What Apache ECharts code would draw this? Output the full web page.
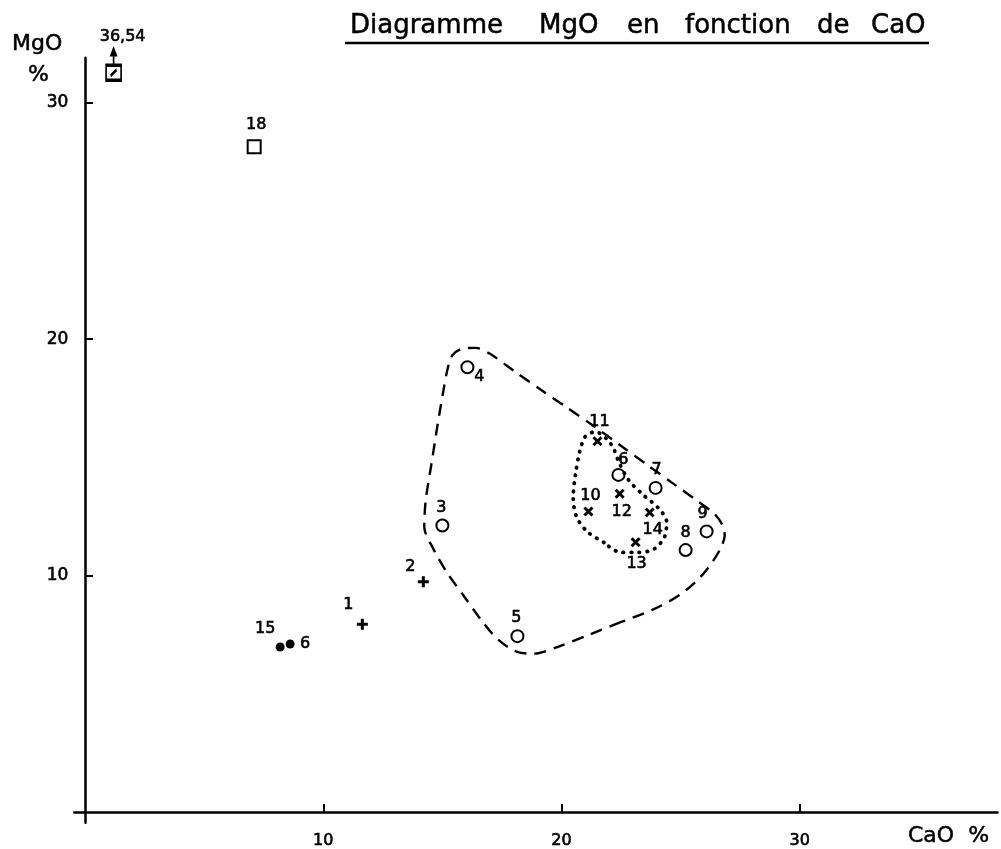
<!DOCTYPE html>
<html><head><meta charset="utf-8">
<script src="https://cdn.jsdelivr.net/npm/echarts@6/dist/echarts.min.js"></script>
<style>html,body{margin:0;padding:0;background:#fff}#c{width:1001px;height:849px}</style>
</head><body><div id="c"></div>
<script>
// ---- data ----
const caoTicks = [10, 20, 30];
const mgoTicks = [10, 20, 30];

const circleNames = ['3', '4', '5', '6', '7', '8', '9'];
const circleCaO   = [15.0, 16.05, 18.15, 22.39, 23.95, 25.21, 26.09];
const circleMgO   = [12.12, 18.81, 7.44, 14.26, 13.71, 11.08, 11.87];

const crossNames = ['10', '11', '12', '13', '14'];
const crossCaO   = [21.13, 21.51, 22.44, 23.11, 23.7];
const crossMgO   = [12.71, 15.68, 13.46, 11.41, 12.67];

const plusNames = ['1', '2'];
const plusCaO   = [11.64, 14.2];
const plusMgO   = [7.94, 9.74];

const dotNames = ['15', '6'];
const dotCaO   = [8.19, 8.61];
const dotMgO   = [6.98, 7.11];

const squareNames = ['18'];
const squareCaO   = [7.1];
const squareMgO   = [28.14];

const offNames = ['36,54'];
const offCaO   = [1.2];
const offMgO   = [31.27];

// dashed envelope (closed)
const dashedCaO = [22.48, 21.08, 19.82, 18.84, 18.14, 17.3, 16.6, 15.9, 15.2, 14.64, 14.24, 14.3, 14.54, 14.8, 15.06, 15.22, 15.42, 15.85, 16.4, 17.0, 18.0, 19.12, 20.24, 21.36, 22.48, 23.6, 24.72, 25.7, 26.4, 26.75, 26.85, 26.7, 26.35, 25.84, 25.0, 23.88, 22.48];
const dashedMgO = [8.03, 7.47, 6.98, 6.7, 6.77, 7.33, 8.16, 9.14, 10.12, 11.09, 12.07, 13.18, 14.72, 16.39, 17.92, 18.75, 19.32, 19.6, 19.63, 19.38, 18.66, 17.87, 17.1, 16.32, 15.5, 14.68, 13.87, 13.16, 12.63, 12.15, 11.7, 11.2, 10.6, 9.95, 9.21, 8.58, 8.03];

// dotted envelope (closed)
const dottedCaO = [21.78, 21.08, 20.63, 20.49, 20.59, 20.77, 21.01, 21.43, 21.92, 22.2, 22.41, 22.83, 23.46, 24.09, 24.41, 24.33, 23.88, 23.18, 22.48, 21.78];
const dottedMgO = [11.4, 11.86, 12.49, 13.32, 14.3, 15.27, 15.9, 16.08, 15.76, 15.34, 14.79, 14.02, 13.39, 12.83, 12.28, 11.65, 11.12, 10.98, 10.98, 11.4];

// ---- label placement (style, kept apart from data) ----
const FONT = 'DejaVu Sans';
const circleLabelOff = {'3':[-1,-18],'4':[12,10],'5':[-1,-18],'6':[5,-15],'7':[1,-18],'8':[0,-17],'9':[-4,-18]};
const crossLabelOff  = {'10':[2,-16],'11':[2,-19],'12':[2,18],'13':[1,22],'14':[3,17]};
const plusLabelOff   = {'1':[-14,-19],'2':[-13,-15]};
const dotLabelOff    = {'15':[-15,-18],'6':[15,0]};
const squareLabelOff = {'18':[2,-22]};

function pts(names, xs, ys, offs) {
  return names.map((n, i) => ({
    name: n, value: [xs[i], ys[i]],
    label: offs ? { offset: offs[n] || [0, -16] } : undefined
  }));
}
function pairs(xs, ys) { return xs.map((x, i) => [x, ys[i]]); }

const baseLabel = { show: true, position: 'inside', formatter: '{b}', color: '#000', fontSize: 16, fontFamily: FONT, textBorderColor: '#000', textBorderWidth: 0.6 };
const strokeStyle = { color: 'rgba(0,0,0,0)', borderColor: '#000', borderWidth: 3, opacity: 1 };
const tTxt = (text, x, y, size) => ({ type: 'text', x, y, silent: true, style: { text, fontSize: size, fontFamily: FONT, fill: '#000', stroke: '#000', lineWidth: 0.5 } });

const chart = echarts.init(document.getElementById('c'), null, { renderer: 'canvas' });
chart.setOption({
  animation: false,
  backgroundColor: '#fff',
  grid: { left: 74.3, right: 3.5, top: 57.8, bottom: 16.3, containLabel: false },
  xAxis: {
    type: 'value', min: -0.45, max: 38.3,
    axisLine: { onZero: true, lineStyle: { color: '#000', width: 2.5 } },
    axisTick: { show: true, inside: true, length: 8, customValues: caoTicks, lineStyle: { color: '#000', width: 2 } },
    axisLabel: { customValues: caoTicks, color: '#000', fontSize: 16, fontFamily: FONT, margin: 10, textBorderColor: '#000', textBorderWidth: 0.6 },
    splitLine: { show: false }
  },
  yAxis: {
    type: 'value', min: -0.45, max: 31.9,
    axisLine: { onZero: true, lineStyle: { color: '#000', width: 2.5 } },
    axisTick: { show: true, inside: true, length: 8, customValues: mgoTicks, lineStyle: { color: '#000', width: 2 } },
    axisLabel: { customValues: mgoTicks, color: '#000', fontSize: 17, fontFamily: FONT, margin: 6, textBorderColor: '#000', textBorderWidth: 0.6 },
    splitLine: { show: false }
  },
  graphic: [
    tTxt('Diagramme', 350, 13, 26),
    tTxt('MgO', 539, 13, 26),
    tTxt('en', 627, 13, 26),
    tTxt('fonction', 685, 13, 26),
    tTxt('de', 817, 13, 26),
    tTxt('CaO', 871, 13, 26),
    { type: 'line', silent: true, shape: { x1: 345, y1: 43, x2: 929, y2: 43 }, style: { stroke: '#000', lineWidth: 2.5 } },
    tTxt('MgO', 12, 33, 22),
    tTxt('%', 28, 64, 22),
    tTxt('CaO  %', 908, 825, 22)
  ],
  series: [
    {
      type: 'line', data: pairs(dashedCaO, dashedMgO), smooth: 0.3, symbol: 'none', silent: true,
      lineStyle: { color: '#000', width: 2.4, type: [12, 8] }
    },
    {
      type: 'line', data: pairs(dottedCaO, dottedMgO), smooth: 0.3, symbol: 'none', silent: true,
      lineStyle: { color: '#000', width: 3.8, type: [0.5, 7.5], cap: 'round' }
    },
    {
      type: 'scatter', symbol: 'emptyCircle', symbolSize: 12,
      itemStyle: { color: '#000', borderColor: '#000', borderWidth: 2.5, opacity: 1 },
      label: baseLabel, data: pts(circleNames, circleCaO, circleMgO, circleLabelOff)
    },
    {
      type: 'scatter', symbol: 'path://M0,0L10,10M10,0L0,10', symbolSize: 8,
      itemStyle: strokeStyle, label: baseLabel, data: pts(crossNames, crossCaO, crossMgO, crossLabelOff)
    },
    {
      type: 'scatter', symbol: 'path://M5,0L5,10M0,5L10,5', symbolSize: 11,
      itemStyle: strokeStyle, label: baseLabel, data: pts(plusNames, plusCaO, plusMgO, plusLabelOff)
    },
    {
      type: 'scatter', symbol: 'circle', symbolSize: 9,
      itemStyle: { color: '#000', opacity: 1 }, label: baseLabel, data: pts(dotNames, dotCaO, dotMgO, dotLabelOff)
    },
    {
      type: 'scatter', symbol: 'emptyRect', symbolSize: 13,
      itemStyle: { color: '#000', borderColor: '#000', borderWidth: 2.5, opacity: 1 },
      label: baseLabel, data: pts(squareNames, squareCaO, squareMgO, squareLabelOff)
    },
    {
      type: 'scatter', symbol: 'path://M0,11L10,11L10,21L0,21Z M3,18L7,14 M5,11L5,2 M3.5,4L5,0L6.5,4Z',
      symbolSize: [15, 31.5], symbolOffset: [0, -8.25],
      itemStyle: { color: 'rgba(0,0,0,0)', borderColor: '#000', borderWidth: 2.4, opacity: 1 },
      label: { show: true, position: 'top', distance: 2, offset: [9, 0], formatter: '{b}', color: '#000', fontSize: 16, fontFamily: FONT, textBorderColor: '#000', textBorderWidth: 0.6 },
      data: pts(offNames, offCaO, offMgO, null)
    }
  ]
});
</script>
</body></html>
